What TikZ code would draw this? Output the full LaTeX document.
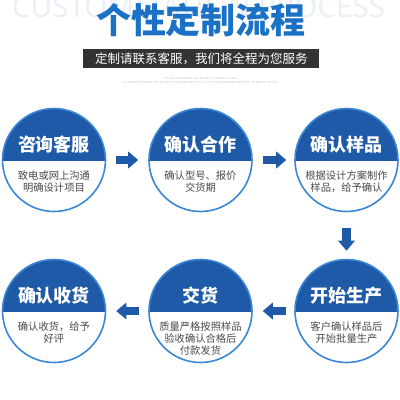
\documentclass[tikz,border=0pt]{standalone}
\usepackage{fontspec}
\setmainfont{Noto Sans CJK SC}
\newfontfamily\wmfont{Noto Sans}
\usetikzlibrary{arrows.meta}
\definecolor{cblue}{HTML}{1E5AA8}
\definecolor{ring}{HTML}{3A87D5}
\definecolor{tblue}{HTML}{1A71C6}
\definecolor{wmc}{HTML}{EBF0F6}
\definecolor{boxgray}{HTML}{333333}
\definecolor{desc}{HTML}{4A4A4A}
\definecolor{tiny}{HTML}{C8C8C8}
\tikzset{
  stepcircle/.style={circle, draw=ring, line width=1.6pt, minimum size=103pt, inner sep=0pt, fill=white,
    path picture={\fill[cblue] ([yshift=-1pt]path picture bounding box.west) rectangle (path picture bounding box.north east);}},
  steptitle/.style={text=white, font=\fontsize{18}{18}\selectfont\bfseries, inner sep=0pt, anchor=base},
  stepdesc/.style={text=desc, font=\fontsize{10.3}{11.6}\selectfont, inner sep=0pt, anchor=base, text width=96pt, align=center},
  bigarrow/.style={draw=cblue, line width=8.5pt, -{Triangle[length=10pt, width=17pt, line width=0pt]}},
  tinytext/.style={text=tiny, inner sep=0pt}
}
\begin{document}
\begin{tikzpicture}[x=1pt,y=-1pt]
\useasboundingbox (0,0) rectangle (400,400);
\fill[white] (0,0) rectangle (400,400);
% watermark and title
\node[anchor=base, text=wmc, inner sep=0pt] (wm) at (198.5,17) {\resizebox{373pt}{!}{\wmfont CUSTOMIZATION PROCESS}};
\node[font=\fontsize{35}{35}\selectfont\bfseries, text=tblue, anchor=base, inner sep=0pt] (title) at (201,33.5) {个性定制流程};
% subtitle bar
\node[fill=boxgray, minimum width=236pt, minimum height=19pt, inner sep=0pt] (bar) at (201,58.5) {};
\node[text=white, font=\fontsize{12.5}{12.5}\selectfont, anchor=base, inner sep=0pt] (bartext) at (201.5,63.3) {定制请联系客服，我们将全程为您服务};
\node[tinytext] (tiny1) at (200.5,79) {\resizebox{75pt}{2pt}{\wmfont CUSTOMIZATION PROCESS}};
\node[tinytext] (tiny2) at (200,83) {\resizebox{156pt}{2pt}{\wmfont CUSTOMIZATION PROCESS CUSTOMIZATION PROCESS}};
% circles
\node[stepcircle] (s1) at (54,160) {};
\node[stepcircle] (s2) at (200.5,160) {};
\node[stepcircle] (s3) at (346.5,160) {};
\node[stepcircle] (s4) at (346.5,311) {};
\node[stepcircle] (s5) at (200.5,311) {};
\node[stepcircle] (s6) at (54,311) {};
% titles
\node[steptitle] (t1) at ([yshift=8.5pt]s1.center) {咨询客服};
\node[steptitle] (t2) at ([yshift=8.5pt]s2.center) {确认合作};
\node[steptitle] (t3) at ([yshift=8.5pt]s3.center) {确认样品};
\node[steptitle] (t4) at ([yshift=8.5pt]s4.center) {开始生产};
\node[steptitle] (t5) at ([yshift=8.5pt]s5.center) {交货};
\node[steptitle] (t6) at ([yshift=8.5pt]s6.center) {确认收货};
% descriptions
\node[stepdesc] (d1) at ([yshift=-19.8pt]s1.center) {致电或网上沟通\\明确设计项目};
\node[stepdesc] (d2) at ([yshift=-19.8pt]s2.center) {确认型号、报价\\交货期};
\node[stepdesc] (d3) at ([yshift=-19.8pt]s3.center) {根据设计方案制作\\样品，给予确认};
\node[stepdesc] (d4) at ([yshift=-19.8pt]s4.center) {客户确认样品后\\开始批量生产};
\node[stepdesc] (d5) at ([yshift=-19.8pt]s5.center) {质量严格按照样品\\验收确认合格后\\付款发货};
\node[stepdesc] (d6) at ([yshift=-19.8pt]s6.center) {确认收货，给予\\好评};
% arrows
\draw[bigarrow, shorten <=10pt, shorten >=10pt] (s1) -- (s2);
\draw[bigarrow, shorten <=10pt, shorten >=8pt] (s2) -- (s3);
\draw[bigarrow, shorten <=16pt, shorten >=8pt] (s3) -- (s4);
\draw[bigarrow, shorten <=8pt, shorten >=10pt] (s4) -- (s5);
\draw[bigarrow, shorten <=9pt, shorten >=10pt] (s5) -- (s6);
\end{tikzpicture}
\end{document}
